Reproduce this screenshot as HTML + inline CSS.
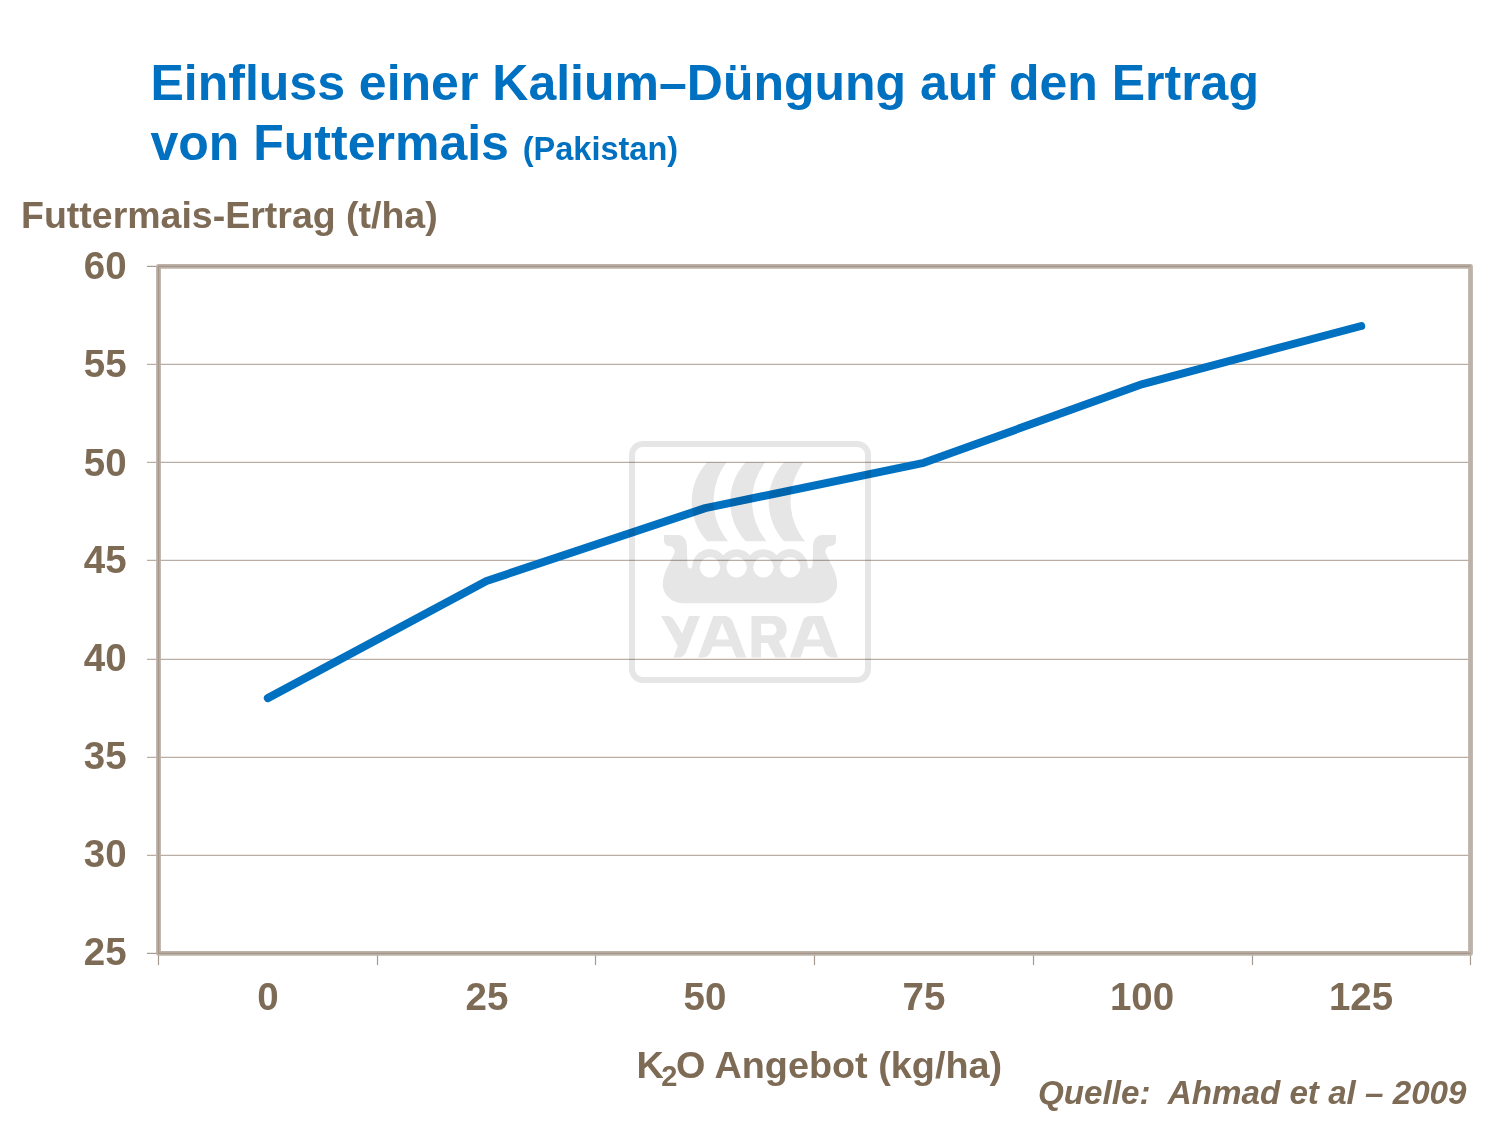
<!DOCTYPE html>
<html><head><meta charset="utf-8">
<style>
html,body{margin:0;padding:0;background:#fff;}
body{width:1500px;height:1125px;position:relative;overflow:hidden;font-family:"Liberation Sans",sans-serif;}
.t{position:absolute;white-space:nowrap;font-weight:bold;line-height:1;}
.title{color:#0070C0;font-size:50px;left:150.5px;}
.br{color:#7E6B56;}
.yl{font-size:38.5px;text-align:right;width:100px;}
.xl{font-size:38.5px;text-align:center;width:200px;}
svg{position:absolute;left:0;top:0;}
</style></head><body>
<div class="t title" style="top:57.7px;">Einfluss einer Kalium–Düngung auf den Ertrag</div>
<div class="t title" style="top:118px;">von Futtermais <span style="font-size:32.5px;">(Pakistan)</span></div>
<div class="t br" style="left:21px;top:196.6px;font-size:37.5px;">Futtermais-Ertrag (t/ha)</div>

<svg width="1500" height="1125" viewBox="0 0 1500 1125">
  <!-- gridlines -->
  <g stroke="#BAAEA4" stroke-width="1.3" fill="none">
    <line x1="147" y1="364.45" x2="1470" y2="364.45"/>
    <line x1="147" y1="462.45" x2="1470" y2="462.45"/>
    <line x1="147" y1="560.45" x2="1470" y2="560.45"/>
    <line x1="147" y1="659.45" x2="1470" y2="659.45"/>
    <line x1="147" y1="757.45" x2="1470" y2="757.45"/>
    <line x1="147" y1="855.35" x2="1470" y2="855.35"/>
  </g>
  <!-- ticks -->
  <g stroke="#A59B91" stroke-width="1.2" fill="none">
    <line x1="147" y1="266.4" x2="158" y2="266.4"/>
    <line x1="147" y1="953.4" x2="158" y2="953.4"/>
    <line x1="158.5" y1="953" x2="158.5" y2="965"/>
    <line x1="377.5" y1="953" x2="377.5" y2="965"/>
    <line x1="595.5" y1="953" x2="595.5" y2="965"/>
    <line x1="814.5" y1="953" x2="814.5" y2="965"/>
    <line x1="1033.5" y1="953" x2="1033.5" y2="965"/>
    <line x1="1252.5" y1="953" x2="1252.5" y2="965"/>
    <line x1="1470.5" y1="953" x2="1470.5" y2="965"/>
  </g>
  <!-- plot border -->
  <rect x="158.5" y="266.4" width="1312" height="687" fill="none" stroke="#BCB2A8" stroke-width="4.8" stroke-linejoin="round"/>
  <path d="M158.5,266.4 L1470.5,266.4 M158.5,266.4 L158.5,953.4 L1470.5,953.4" fill="none" stroke="#A39587" stroke-width="1.3"/>
  <!-- data line -->
  <polyline points="267.8,698.1 486.5,581.0 705.2,508.1 923.8,462.8 1142.5,384.1 1361.2,326.0" fill="none" stroke="#0070C0" stroke-width="8" stroke-linecap="round" stroke-linejoin="round"/>
  <!-- YARA watermark -->
  <g style="mix-blend-mode:multiply" fill="#E6E6E6">
    <rect x="632" y="444" width="236" height="236" rx="11" ry="11" fill="none" stroke="#E6E6E6" stroke-width="6"/>
    <path d="M707.1,462.3 A58.3,58.3 0 0 0 707.1,541.3 L728.1,541.3 A63.4,63.4 0 0 1 726.7,462.3 Z"/>
    <path d="M745.6,462.3 A58.3,58.3 0 0 0 745.6,541.3 L766.6,541.3 A63.4,63.4 0 0 1 765.2,462.3 Z"/>
    <path d="M784.1,462.3 A58.3,58.3 0 0 0 784.1,541.3 L805.1,541.3 A63.4,63.4 0 0 1 803.7,462.3 Z"/>
    <path d="M750.0,603.2 L683.4,603.2 C671.0,603.2 662.8,594.0 662.8,584.0 C662.8,579.0 664.5,574.0 666.5,569.0 L674.3,553.5 C675.3,550.5 674.0,546.3 669.0,546.0 C666.0,545.8 664.0,543.5 664.0,540.3 L664.0,535.0 L677.9,535.0 C682.8,535.0 686.8,539.4 686.8,544.9 L687.5,565.2 C687.8,567.5 689.0,568.5 690.3,568.5 C691.5,568.5 692.1,567.8 692.1,567.2 A17.8,17.8 0 0 1 723.3,555.2 A17.8,17.8 0 0 1 750.0,555.2 A17.8,17.8 0 0 1 776.7,555.2 A17.8,17.8 0 0 1 807.9,567.2 C807.9,567.8 808.5,568.5 809.7,568.5 C811.0,568.5 812.2,567.5 812.5,565.2 L813.2,544.9 C813.2,539.4 817.2,535.0 822.1,535.0 L836.0,535.0 L836.0,540.3 C836.0,543.5 834.0,545.8 831.0,546.0 C826.0,546.3 824.7,550.5 825.7,553.5 L833.5,569.0 C835.5,574.0 837.2,579.0 837.2,584.0 C837.2,594.0 829.0,603.2 816.6,603.2 L750.0,603.2 Z"/>
    <g fill="#FFFFFF">
      <circle cx="709.9" cy="567.2" r="10.2"/>
      <circle cx="736.6" cy="567.2" r="10.2"/>
      <circle cx="763.4" cy="567.2" r="10.2"/>
      <circle cx="790.1" cy="567.2" r="10.2"/>
    </g>
    <path fill-rule="evenodd" d="M661.1,616.1 L667.7,616.1 C670.5,616.1 673.2,618.3 674.6,620.8 L682.2,633.4 L688.9,616.1 L700,616.1 L686.7,650.5 C685.3,654.5 682.5,657.5 679.1,657.5 L673.4,657.5 L677.8,646.1 Z"/>
    <path fill-rule="evenodd" d="M698.1,657.5 L713.3,616.1 L724.7,616.1 C728.3,616.1 731.5,618.5 732.9,622 L746.2,657.5 L736.1,657.5 L731.6,646.5 L712.6,646.5 L710.9,651.3 C709.6,655 706.7,657.5 703.1,657.5 Z M715.8,639.4 L729.1,639.4 L722.1,622.7 Z"/>
    <path fill-rule="evenodd" d="M751.5,616.1 L774.1,616.1 C781,616.1 786.7,621.5 786.7,629.6 C786.7,635.5 783.5,639.6 778.9,641 L786.7,657.5 L775.3,657.5 L767.7,642.9 L761.1,642.9 L761.1,657.5 L751.5,657.5 Z M761.1,623.7 L770.9,623.7 C774.3,623.7 776.6,626.2 776.6,629.6 C776.6,633 774.3,635.3 770.9,635.3 L761.1,635.3 Z"/>
    <path fill-rule="evenodd" d="M789.9,657.5 L803.2,620.1 C804.4,617.7 807.2,616.1 810.8,616.1 L822.8,616.1 L838,657.5 L832.3,657.5 C828.7,657.5 825.9,655 824.7,651.8 L822.8,646.5 L804.5,646.5 L800.5,657.5 Z M807,639.4 L820.3,639.4 L814,622.7 Z"/>
  </g>
</svg>


<div class="t br yl" style="left:26.7px;top:246.6px;">60</div>
<div class="t br yl" style="left:26.7px;top:345.1px;">55</div>
<div class="t br yl" style="left:26.7px;top:443.7px;">50</div>
<div class="t br yl" style="left:26.7px;top:541.2px;">45</div>
<div class="t br yl" style="left:26.7px;top:638.6px;">40</div>
<div class="t br yl" style="left:26.7px;top:737.2px;">35</div>
<div class="t br yl" style="left:26.7px;top:834.9px;">30</div>
<div class="t br yl" style="left:26.7px;top:933.3px;">25</div>
<div class="t br xl" style="left:168px;top:978px;">0</div>
<div class="t br xl" style="left:387px;top:978px;">25</div>
<div class="t br xl" style="left:605px;top:978px;">50</div>
<div class="t br xl" style="left:824px;top:978px;">75</div>
<div class="t br xl" style="left:1042px;top:978px;">100</div>
<div class="t br xl" style="left:1261px;top:978px;">125</div>

<div class="t br" style="left:636.5px;top:1046.5px;font-size:37.8px;">K<span style="font-size:29px;position:relative;top:8.5px;margin-left:-2.5px;margin-right:-1.5px;">2</span>O Angebot (kg/ha)</div>
<div class="t br" style="left:1038px;top:1076px;font-size:33.2px;font-style:italic;">Quelle:&nbsp; Ahmad et al – 2009</div>
</body></html>
